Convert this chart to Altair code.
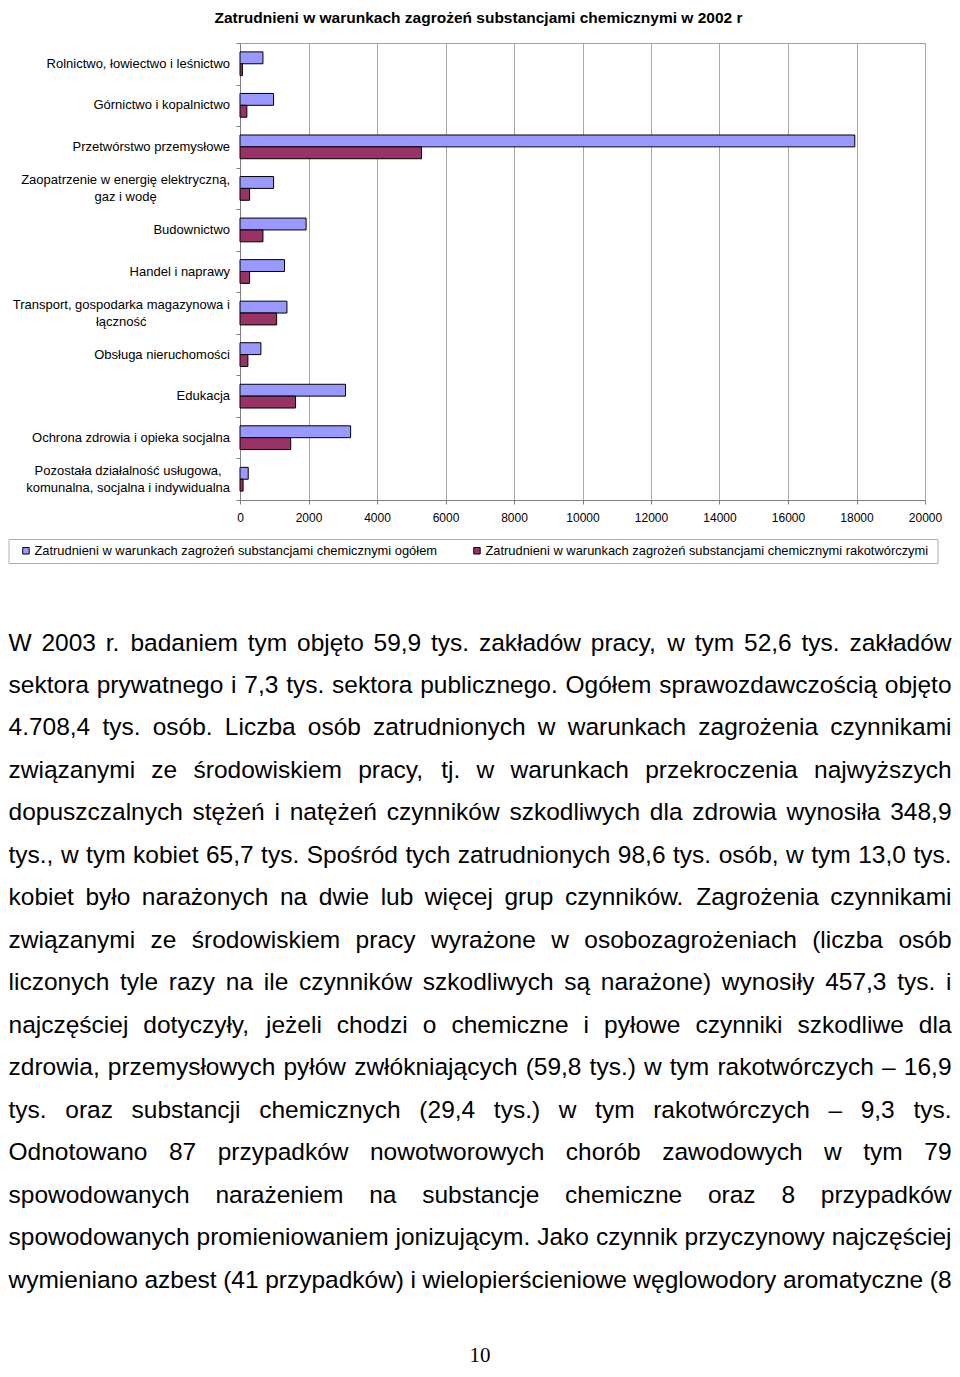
import altair as alt
import pandas as pd

# ---------------- data ----------------
TITLE = "Zatrudnieni w warunkach zagrożeń substancjami chemicznymi w 2002 r"

categories = [
    "Rolnictwo, łowiectwo i leśnictwo",
    "Górnictwo i kopalnictwo",
    "Przetwórstwo przemysłowe",
    "Zaopatrzenie w energię elektryczną,\ngaz i wodę",
    "Budownictwo",
    "Handel i naprawy",
    "Transport, gospodarka magazynowa i\nłączność",
    "Obsługa nieruchomości",
    "Edukacja",
    "Ochrona zdrowia i opieka socjalna",
    "Pozostała działalność usługowa,\nkomunalna, socjalna i indywidualna",
]
ogolem = [670, 980, 17950, 980, 1930, 1300, 1370, 610, 3080, 3230, 240]
rakotworcze = [70, 200, 5300, 280, 670, 280, 1070, 230, 1620, 1480, 90]

series = [
    "Zatrudnieni w warunkach zagrożeń substancjami chemicznymi  ogółem",
    "Zatrudnieni w warunkach zagrożeń substancjami chemicznymi  rakotwórczymi",
]
colors = ["#9999FF", "#993366"]
x_ticks = [0, 2000, 4000, 6000, 8000, 10000, 12000, 14000, 16000, 18000, 20000]

paragraph_lines = [
    "W 2003 r. badaniem tym objęto 59,9 tys. zakładów pracy, w tym 52,6 tys. zakładów",
    "sektora prywatnego i 7,3 tys. sektora publicznego. Ogółem sprawozdawczością objęto",
    "4.708,4 tys. osób. Liczba osób zatrudnionych w warunkach zagrożenia czynnikami",
    "związanymi ze środowiskiem pracy, tj. w warunkach przekroczenia najwyższych",
    "dopuszczalnych stężeń i natężeń czynników szkodliwych dla zdrowia wynosiła 348,9",
    "tys., w tym kobiet 65,7 tys. Spośród tych zatrudnionych 98,6 tys. osób, w tym 13,0 tys.",
    "kobiet było narażonych na dwie lub więcej grup czynników. Zagrożenia czynnikami",
    "związanymi ze środowiskiem pracy wyrażone w osobozagrożeniach (liczba osób",
    "liczonych tyle razy na ile czynników szkodliwych są narażone) wynosiły 457,3 tys. i",
    "najczęściej dotyczyły, jeżeli chodzi o chemiczne i pyłowe czynniki szkodliwe dla",
    "zdrowia, przemysłowych pyłów zwłókniających (59,8 tys.) w tym rakotwórczych – 16,9",
    "tys. oraz substancji chemicznych (29,4 tys.) w tym rakotwórczych – 9,3 tys.",
    "Odnotowano 87 przypadków nowotworowych chorób zawodowych w tym 79",
    "spowodowanych narażeniem na substancje chemiczne oraz 8 przypadków",
    "spowodowanych promieniowaniem jonizującym. Jako czynnik przyczynowy najczęściej",
    "wymieniano azbest (41 przypadków) i wielopierścieniowe węglowodory aromatyczne (8",
]
page_number = "10"

# ---------------- layout (page pixels) ----------------
FONT = "Liberation Sans, Arial, sans-serif"
SERIF = "Liberation Serif, Times New Roman, serif"
MARGIN = 8
PAGE_W, PAGE_H = 960, 1377
VIS_R, VIS_B = PAGE_W - MARGIN, PAGE_H - MARGIN      # drawable area ends here
PLOT_L, PLOT_T, PLOT_W, PLOT_H = 240, 43, 685, 457
PAD = {
    "left": PLOT_L - MARGIN,
    "top": PLOT_T - MARGIN,
    "right": VIS_R - PLOT_L - PLOT_W,
    "bottom": VIS_B - PLOT_T - PLOT_H,
}

# Arial / Liberation Sans advance widths (1/1000 em) for text layout
_W = {" ": 278, ".": 278, ",": 278, "(": 333, ")": 333, "–": 556, "-": 333, ":": 278}
for ch, w in zip("abcdefghijklmnopqrstuvwxyz",
                 [556, 556, 500, 556, 556, 278, 556, 556, 222, 222, 500, 222, 833,
                  556, 556, 556, 556, 333, 500, 278, 556, 500, 722, 500, 500, 500]):
    _W[ch] = w
for ch, w in zip("ABCDEFGHIJKLMNOPQRSTUVWXYZ",
                 [667, 667, 722, 722, 667, 611, 778, 722, 278, 500, 667, 556, 833,
                  722, 778, 667, 778, 722, 667, 611, 722, 667, 944, 667, 667, 611]):
    _W[ch] = w
for ch in "0123456789":
    _W[ch] = 556
_W.update({"ą": 556, "ć": 500, "ę": 556, "ł": 222, "ń": 556, "ó": 556, "ś": 500,
           "ź": 500, "ż": 500, "Ł": 556, "Ś": 667, "Ż": 611, "Ó": 778})


def text_width(s, size):
    return sum(_W.get(c, 556) for c in s) * size / 1000.0


# bars (long form)
bar_rows = []
for c, a, b in zip(categories, ogolem, rakotworcze):
    bar_rows.append({"category": c, "series": series[0], "value": a})
    bar_rows.append({"category": c, "series": series[1], "value": b})
df_bars = pd.DataFrame(bar_rows)

# category labels (centred multi-line blocks, right edge at x=230)
LABEL_FS, LABEL_LH = 13, 17
step = PLOT_H / len(categories)
lab_rows = []
for i, c in enumerate(categories):
    parts = c.split("\n")
    wmax = max(text_width(part, LABEL_FS) for part in parts)
    lab_rows.append({"label": c, "px": 230 - wmax / 2,
                     "py": PLOT_T + (i + 0.5) * step - (len(parts) - 1) * LABEL_LH / 2})
df_labels = pd.DataFrame(lab_rows)

# justified paragraph
PARA_FS = 24.5
LEFT, RIGHT = 8.5, 951.5
BASE0, LEAD = 650.5, 42.47
word_rows = []
for i, line in enumerate(paragraph_lines):
    words = line.split(" ")
    widths = [text_width(w, PARA_FS) for w in words]
    gap = (RIGHT - LEFT - sum(widths)) / (len(words) - 1)
    x = LEFT
    for w, wd in zip(words, widths):
        word_rows.append({"word": w, "px": x, "py": BASE0 + i * LEAD})
        x += wd + gap
df_words = pd.DataFrame(word_rows)

df_page = pd.DataFrame([{"t": page_number, "px": 480, "py": 1362}])
df_title = pd.DataFrame([{"t": TITLE, "px": 478.5, "py": 23}])


def px_x():
    return alt.X("px:Q", scale=alt.Scale(domain=[0, PAGE_W], range=[-PLOT_L, PAGE_W - PLOT_L],
                                         nice=False, zero=False), axis=None)


def px_y():
    return alt.Y("py:Q", scale=alt.Scale(domain=[0, PAGE_H], range=[-PLOT_T, PAGE_H - PLOT_T],
                                         nice=False, zero=False), axis=None)


legend_label_expr = "datum.value === '%s' ? datum.label + '   ' : datum.label" % series[1]

bars = alt.Chart(df_bars).mark_bar(stroke="black", strokeWidth=1).encode(
    x=alt.X("value:Q",
            scale=alt.Scale(domain=[0, 20000], nice=False, zero=True),
            axis=alt.Axis(values=x_ticks, title=None, format="d", grid=True, labelFlush=False,
                          gridColor="#a8a8a8", domainColor="#808080", tickColor="#808080",
                          tickSize=4, labelPadding=8, labelFontSize=12, labelFont=FONT,
                          labelColor="black")),
    y=alt.Y("category:N", sort=categories,
            scale=alt.Scale(paddingInner=0, paddingOuter=0),
            axis=alt.Axis(labels=False, title=None, tickBand="extent", tickSize=4,
                          tickColor="#808080", domainColor="#808080", grid=False)),
    yOffset=alt.YOffset("series:N", sort=series,
                        scale=alt.Scale(paddingOuter=0.75, paddingInner=0)),
    color=alt.Color("series:N",
                    scale=alt.Scale(domain=series, range=colors),
                    legend=alt.Legend(orient="none", legendX=8.5 - PLOT_L, legendY=539 - PLOT_T,
                                      direction="horizontal", title=" ", titleOrient="left",
                                      titlePadding=6, titleFontSize=13,
                                      strokeColor="#b0b0b0", fillColor="white", padding=5,
                                      symbolType="square", symbolSize=42,
                                      symbolStrokeColor="black", symbolStrokeWidth=1,
                                      labelFontSize=12.9, labelFont=FONT, labelColor="black",
                                      labelLimit=1000, labelOffset=2, columnPadding=29,
                                      labelExpr=legend_label_expr)),
)

labels = alt.Chart(df_labels).mark_text(
    align="center", baseline="middle", lineBreak="\n", lineHeight=LABEL_LH,
    fontSize=LABEL_FS, font=FONT, color="black"
).encode(x=px_x(), y=px_y(), text="label:N")

title = alt.Chart(df_title).mark_text(
    align="center", baseline="alphabetic", fontSize=15.5, fontWeight="bold",
    font=FONT, color="black"
).encode(x=px_x(), y=px_y(), text="t:N")

para = alt.Chart(df_words).mark_text(
    align="left", baseline="alphabetic", fontSize=PARA_FS, font=FONT, color="black"
).encode(x=px_x(), y=px_y(), text="word:N")

pagenum = alt.Chart(df_page).mark_text(
    align="center", baseline="alphabetic", fontSize=21, font=SERIF, color="black"
).encode(x=px_x(), y=px_y(), text="t:N")

chart = alt.layer(bars, labels, title, para, pagenum).resolve_scale(
    x="independent", y="independent"
).properties(
    width=PLOT_W, height=PLOT_H,
    autosize=alt.AutoSizeParams(type="none"),
    padding=PAD,
).configure_view(stroke="#a0a0a0", strokeWidth=1)

chart.save("out.html", embed_options={"renderer": "svg", "actions": False})
